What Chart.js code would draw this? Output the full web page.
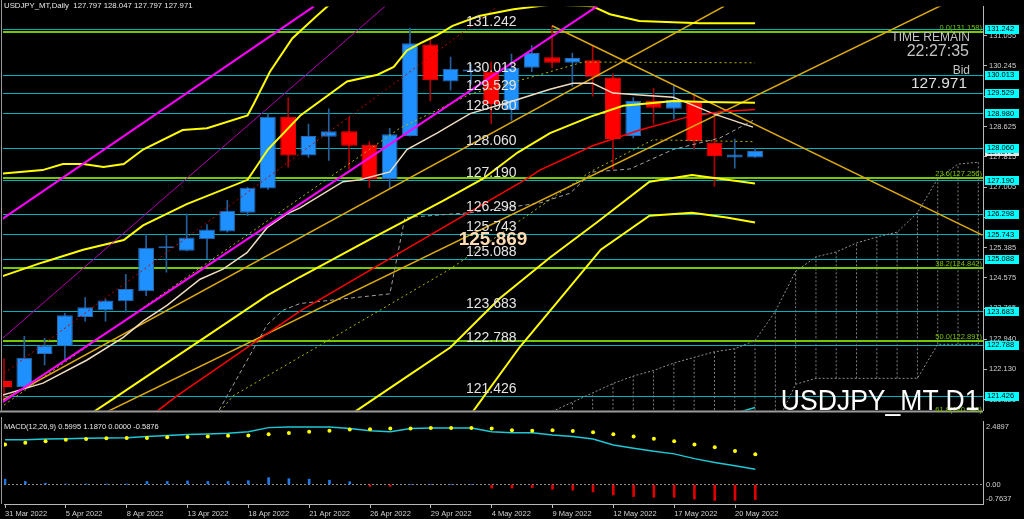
<!DOCTYPE html>
<html>
<head>
<meta charset="utf-8">
<script src="https://cdn.jsdelivr.net/npm/chart.js@4.4.0/dist/chart.umd.min.js"></script>
<style>
  body { margin: 0; background: #000; width: 1024px; height: 519px; overflow: hidden; position: relative; font-family: "Liberation Sans", Arial, sans-serif; }
  canvas { position: absolute; left: 0; }
  #main { top: 0; }
  #macd { top: 417px; }
  .t { position: absolute; white-space: pre; line-height: 1; color: #d8d8d8; }
</style>
</head>
<body>
<canvas id="main" width="1024" height="417"></canvas>
<canvas id="macd" width="1024" height="102"></canvas>

<div class="t" style="left:4px;top:2.4px;font-size:7.8px;color:#e8e8e8">USDJPY_MT,Daily  127.797 128.047 127.797 127.971</div>
<div class="t" style="right:54px;top:30.8px;font-size:12px;color:#c4c4c4">TIME REMAIN</div>
<div class="t" style="right:55px;top:42.5px;font-size:16px;color:#c4c4c4">22:27:35</div>
<div class="t" style="right:54px;top:63.8px;font-size:12px;color:#c4c4c4">Bid</div>
<div class="t" style="right:57px;top:74.9px;font-size:15.5px;color:#e0e0e0">127.971</div>
<div class="t" style="right:44px;top:384.6px;font-size:30px;color:#fff;transform:scaleX(0.885);transform-origin:right">USDJPY_MT D1</div>
<div class="t" style="left:4px;top:422.7px;font-size:7.5px;color:#e8e8e8">MACD(12,26,9) 0.5995 1.1870 0.0000 -0.5876</div>

<script>
// daily bars, 31 Mar .. 23 May 2022
const barDates = ['31 Mar 2022','1 Apr 2022','4 Apr 2022','5 Apr 2022','6 Apr 2022','7 Apr 2022','8 Apr 2022',
  '11 Apr 2022','12 Apr 2022','13 Apr 2022','14 Apr 2022','15 Apr 2022','18 Apr 2022','19 Apr 2022','20 Apr 2022',
  '21 Apr 2022','22 Apr 2022','25 Apr 2022','26 Apr 2022','27 Apr 2022','28 Apr 2022','29 Apr 2022','2 May 2022',
  '3 May 2022','4 May 2022','5 May 2022','6 May 2022','9 May 2022','10 May 2022','11 May 2022','12 May 2022',
  '13 May 2022','16 May 2022','17 May 2022','18 May 2022','19 May 2022','20 May 2022','23 May 2022'];
const openPrices  = [121.82,121.66,122.54,122.75,123.53,123.71,123.95,124.22,125.37,125.30,125.61,125.82,126.32,126.97,128.89,127.85,128.35,128.50,128.14,127.22,128.37,130.82,129.83,130.10,130.09,129.07,130.20,130.48,130.33,130.40,129.94,128.37,129.31,129.10,129.31,128.19,127.80,127.797];
const highPrices  = [122.41,123.01,122.96,123.63,124.05,124.00,124.67,125.74,125.74,126.29,126.00,126.65,127.00,128.97,129.39,128.69,129.10,128.87,128.22,128.58,131.26,130.98,130.48,130.30,130.35,130.56,130.79,131.32,130.59,130.79,130.04,129.40,129.65,129.73,129.49,128.87,128.29,128.047];
const lowPrices   = [121.28,121.66,122.25,122.38,123.42,123.42,123.66,124.10,124.73,125.30,125.09,125.80,126.24,126.94,127.54,127.80,127.72,127.49,126.99,126.97,128.37,129.31,129.60,129.75,128.70,128.79,130.09,130.20,129.70,129.44,127.49,128.32,128.69,128.82,128.01,127.02,127.51,127.797];
const closePrices = [121.66,122.44,122.77,123.58,123.79,123.97,124.28,125.38,125.39,125.66,125.87,126.37,126.99,128.89,127.85,128.37,128.50,128.11,127.22,128.42,130.85,129.86,130.17,130.13,129.23,130.20,130.59,130.33,130.46,129.96,128.29,129.31,129.13,129.34,128.24,127.83,127.88,127.971];

const dateTickBars = [0,3,6,9,12,15,18,21,24,27,30,33,36];
const priceTicks = [121.320,122.130,122.940,123.765,124.575,125.385,126.195,127.005,127.815,128.625,129.435,130.245,131.055];
const priceTickLabels = ['121.320','122.130','122.940','123.765','124.575','125.385','126.195','127.005','127.815','128.625','129.435','130.245','131.055'];

// horizontal levels and fibo
const levelPrices = [131.242,130.013,129.529,128.980,128.060,127.190,126.298,125.743,125.088,123.683,122.788,121.426];
const fibLevels = [131.158,127.256,124.842,122.891,120.940];
const fibNames = ['0.0','23.6','38.2','50.0','61.8'];
const bidPrice = 127.971;
const markPrice = 125.869;
const markBar = 22.4;
const levelTextBar = 22.76;

// indicator lines as [bar, price]
const bandOuterUp = [[-0.2,127.36],[1.9,127.46],[2.9,127.62],[3.9,127.62],[4.9,127.54],[5.9,127.62],[6.85,128.01],[8.8,128.53],[10,128.58],[12,128.92],[12.3,129.23],[13.1,130.09],[14.2,130.98],[15.4,131.58],[16.2,131.97],[20,133.0],[28,133.4],[37,132.46]];
const bandUp = [[-0.2,124.60],[1.9,124.99],[3.9,125.33],[5.9,125.59],[6.85,125.98],[9,126.55],[12,127.20],[13,128.01],[14.6,128.92],[16.9,129.83],[18.4,130.01],[19.2,130.22],[19.85,130.66],[20.5,130.85],[21.3,131.06],[22.1,131.32],[23.4,131.58],[25.1,131.76],[27,131.89],[29,131.84],[29.85,131.63],[31.3,131.45],[34.3,131.39],[37,131.39]];
const bandMid = [[0,119.4],[5.6,121.42],[9.66,122.90],[12.96,124.10],[14.58,124.60],[18,125.60],[21.6,126.63],[23.6,127.23],[25.3,127.93],[26.9,128.45],[28.9,128.89],[30.5,129.18],[33,129.31],[34.6,129.28],[37,129.26]];
const bandDn = [[15,119.6],[17.3,121.0],[19.5,121.81],[22,122.72],[24.4,124.02],[26.9,125.12],[29.2,126.06],[31.8,127.15],[33.9,127.33],[37,127.10]];
const bandOuterDn = [[21,119.8],[23.1,121.0],[25.4,122.72],[27.4,124.02],[29.4,125.33],[31.8,126.24],[33.9,126.32],[35.6,126.19],[37,126.06]];
const redMa = [[6,120.4],[7.59,121.03],[8.52,121.42],[14.58,123.69],[25.76,127.23],[26.4,127.46],[29.0,128.11],[31.33,128.53],[33.6,128.87],[35.3,129.02],[37,129.08]];
const redDotted = [[-0.2,121.94],[24.33,131.84]];
const wheatMa = [[-0.2,121.42],[1.92,121.76],[4.09,122.38],[5.86,122.98],[6.85,123.42],[8.03,123.84],[9.66,124.54],[10.79,124.81],[11.97,125.25],[12.96,125.92],[13.94,126.29],[14.58,126.45],[16.7,127.15],[17.54,127.20],[19.01,127.41],[19.85,128.01],[21.33,128.45],[22.96,128.97],[25.07,129.31],[26.9,129.62],[28.03,129.78],[29.0,129.78],[30.0,129.52],[31.33,129.47],[32.96,129.41],[33.79,129.23],[34.93,128.97],[36.9,128.61]];
const grayDashed = [[10.3,120.5],[10.59,121.03],[10.99,121.42],[12.96,123.32],[13.74,123.71],[14.58,123.89],[19.01,124.15],[19.75,126.19],[22.96,126.32],[26.4,126.58],[27.88,126.84],[29.0,127.41],[30.84,127.49],[32.96,128.01],[35.27,128.32],[36.9,128.79]];
const oliveDotted1 = [[-0.2,121.1],[4.73,122.98],[11.63,125.59],[14.58,126.71],[19.5,128.58],[22.96,129.49],[26.4,130.01],[28.52,130.35],[37,130.33]];
const oliveDotted2 = [[10.5,120.9],[11.28,121.42],[14.58,122.46],[21.97,124.81],[28.87,127.41],[31.97,128.27],[37,128.22]];
const goldLineA = [[-0.2,121.27],[35.47,131.84]];
const goldLineB = [[-0.2,119.60],[48.2,132.40]];
const goldLineDown = [[27,131.32],[48.2,125.72]];
const magentaLow = [[-0.2,121.21],[29.21,131.84]];
const magentaHigh = [[-0.2,126.11],[15.27,131.84]];
const magentaThin = [[-0.2,122.90],[18.77,131.84]];
const cyanTail = [[36,120.95],[37,121.11]];

// forward cloud, bars 27..48
const cloudBars = [27,28,29,30,31,32,33,34,35,36,37,38,39,40,41,42,43,44,45,46,47,48];
const cloudTop = [121.0,121.25,121.5,121.75,121.95,122.1,122.3,122.45,122.6,122.68,122.9,123.68,124.75,125.14,125.27,125.51,125.67,125.80,126.32,127.23,127.62,127.67];
const cloudBottom = [120.0,120.0,120.1,120.1,120.2,120.2,120.3,120.3,120.4,120.4,120.5,120.6,121.73,121.89,121.89,121.89,121.89,121.89,121.89,122.80,122.80,122.80];

// MACD(12,26,9)
const macdMain = [1.758,1.758,1.784,1.796,1.810,1.822,1.833,1.885,1.922,1.959,1.981,2.007,2.071,2.230,2.257,2.257,2.257,2.193,2.108,2.071,2.193,2.219,2.219,2.219,2.071,2.033,2.033,1.944,1.885,1.784,1.550,1.424,1.301,1.201,1.015,0.866,0.732,0.5995];
const macdSignal = [1.572,1.636,1.699,1.758,1.784,1.810,1.822,1.822,1.848,1.859,1.885,1.907,1.922,1.970,2.019,2.071,2.108,2.156,2.167,2.193,2.193,2.219,2.219,2.219,2.193,2.130,2.108,2.130,2.093,2.045,1.970,1.885,1.796,1.699,1.572,1.461,1.312,1.187];
const macdHist = [0.21,0.12,0.05,0.02,0.01,0.01,0.01,0.12,0.12,0.14,0.12,0.12,0.15,0.27,0.23,0.21,0.17,0.11,-0.07,-0.07,0,0,0,0,-0.14,-0.14,-0.12,-0.19,-0.22,-0.29,-0.41,-0.47,-0.50,-0.50,-0.57,-0.62,-0.62,-0.5876];
const macdAxisTicks = [2.4897, 0, -0.7637];
const macdAxisLabels = ['2.4897', '0.00', '-0.7637'];

const X_MIN = -0.05, X_MAX = 48.23;
const FONT = 'Liberation Sans';

function lineSet(points, color, width, dash) {
    return {
        type: 'line',
        data: points.map(p => ({x: p[0], y: p[1]})),
        borderColor: color,
        borderWidth: width,
        borderDash: dash || [],
        pointRadius: 0,
        fill: false,
        order: 0
    };
}

const isUp = i => closePrices[i] >= openPrices[i];

// hatch lines of the cloud, split by nulls
const hatch = [];
cloudBars.forEach((b, i) => {
    if (b < 28) return;
    hatch.push({x: b, y: cloudBottom[i]}, {x: b, y: cloudTop[i]}, {x: b, y: null});
});

const mainDeco = {
    id: 'mainDeco',
    beforeDatasetsDraw(chart) {
        const {ctx, chartArea: a, scales: {y}} = chart;
        ctx.save();
        ctx.beginPath();
        ctx.rect(a.left, a.top, a.right - a.left, a.bottom - a.top);
        ctx.clip();
        ctx.lineWidth = 1;
        ctx.strokeStyle = '#00b2ba';
        levelPrices.forEach(p => {
            const py = Math.round(y.getPixelForValue(p)) + 0.5;
            ctx.beginPath(); ctx.moveTo(a.left, py); ctx.lineTo(a.right, py); ctx.stroke();
        });
        ctx.lineWidth = 2;
        ctx.strokeStyle = '#74c800';
        fibLevels.forEach(p => {
            const py = Math.round(y.getPixelForValue(p));
            ctx.beginPath(); ctx.moveTo(a.left, py); ctx.lineTo(a.right, py); ctx.stroke();
        });
        ctx.restore();
    },
    afterDraw(chart) {
        const {ctx, chartArea: a, scales: {x, y}} = chart;
        ctx.save();
        // separator and left frame
        ctx.fillStyle = '#9a9a9a';
        ctx.fillRect(0, a.bottom, a.right, 2);
        ctx.fillRect(1, 0, 1, a.bottom);

        // level texts inside chart
        ctx.fillStyle = '#e4e4e4';
        ctx.font = '14px "' + FONT + '"';
        ctx.textBaseline = 'alphabetic';
        ctx.textAlign = 'left';
        const tx = x.getPixelForValue(levelTextBar);
        levelPrices.forEach(p => {
            ctx.fillText(p.toFixed(3), tx, y.getPixelForValue(p) - 3);
        });
        ctx.font = 'bold 19px "' + FONT + '"';
        ctx.fillStyle = '#ffdcb4';
        ctx.textBaseline = 'top';
        ctx.fillText(markPrice.toFixed(3), x.getPixelForValue(markBar), y.getPixelForValue(markPrice) + 1);

        // fibo labels
        ctx.font = '7.5px "' + FONT + '"';
        ctx.fillStyle = '#7cc400';
        ctx.textAlign = 'right';
        ctx.textBaseline = 'alphabetic';
        fibLevels.forEach((p, i) => {
            ctx.fillText(fibNames[i] + '(' + p.toFixed(3) + ')', a.right - 1, y.getPixelForValue(p) - 2);
        });

        // price boxes on the axis
        ctx.textAlign = 'left';
        ctx.textBaseline = 'middle';
        const bx = a.right + 2;
        let py = y.getPixelForValue(bidPrice);
        ctx.fillStyle = '#e6e6e6';
        ctx.fillRect(bx, Math.round(py - 4), 34, 9);
        ctx.fillStyle = '#000';
        ctx.fillText(bidPrice.toFixed(3), bx + 2, py + 0.5);
        levelPrices.forEach(p => {
            py = y.getPixelForValue(p);
            ctx.fillStyle = '#00ffff';
            ctx.fillRect(bx, Math.round(py - 4), 34, 9);
            ctx.fillStyle = '#000';
            ctx.fillText(p.toFixed(3), bx + 2, py + 0.5);
        });
        ctx.restore();
    }
};

new Chart(document.getElementById('main'), {
    type: 'bar',
    data: {
        datasets: [
            lineSet(magentaLow, '#ff00ff', 2),
            lineSet(magentaHigh, '#ff00ff', 2),
            lineSet(magentaThin, '#b400b4', 1),
            lineSet(bandOuterUp, '#ffff00', 2),
            lineSet(bandUp, '#ffff00', 2),
            lineSet(bandMid, '#ffff00', 2),
            lineSet(bandDn, '#ffff00', 2),
            lineSet(bandOuterDn, '#ffff00', 2),
            lineSet(redMa, '#ff0000', 1.5),
            lineSet(wheatMa, '#f0dcc0', 1.5),
            lineSet(goldLineA, '#dcaa10', 1.5),
            lineSet(goldLineB, '#dcaa10', 1.5),
            lineSet(goldLineDown, '#dcaa10', 1.5),
            lineSet(redDotted, '#c00000', 1, [2, 3]),
            lineSet(grayDashed, '#a0a0a0', 1, [4, 3]),
            lineSet(oliveDotted1, '#b4b400', 1, [2, 3]),
            lineSet(oliveDotted2, '#b4b400', 1, [2, 3]),
            lineSet(cloudBars.map((b, i) => [b, cloudTop[i]]), '#909090', 1, [2, 2]),
            lineSet(cloudBars.map((b, i) => [b, cloudBottom[i]]), '#909090', 1, [2, 2]),
            Object.assign(lineSet([], '#808080', 1, [2, 2]), {data: hatch, spanGaps: false}),
            lineSet(cyanTail, '#1ec8d4', 1.5),
            {
                type: 'bar',
                data: openPrices.map((o, i) => ({x: i, y: [o, closePrices[i]]})),
                backgroundColor: c => isUp(c.dataIndex) ? '#1e90ff' : '#ff0000',
                borderColor: c => isUp(c.dataIndex) ? '#2a68b0' : '#ff0000',
                borderWidth: 1,
                borderSkipped: false,
                minBarLength: 2,
                barPercentage: 0.78,
                categoryPercentage: 1,
                grouped: false,
                order: 1
            },
            {
                type: 'bar',
                data: lowPrices.map((l, i) => ({x: i, y: [l, highPrices[i]]})),
                backgroundColor: c => isUp(c.dataIndex) ? '#25609c' : '#b00000',
                barThickness: 1,
                grouped: false,
                order: 2
            }
        ]
    },
    options: {
        responsive: false,
        animation: false,
        events: [],
        layout: {padding: {left: 3, right: 0, top: 0, bottom: 2}},
        plugins: {legend: {display: false}, tooltip: {enabled: false}},
        scales: {
            x: {type: 'linear', display: false, min: X_MIN, max: X_MAX, offset: false},
            y: {
                type: 'linear',
                position: 'right',
                min: 121.029,
                max: 131.836,
                afterFit: s => { s.width = 41; },
                afterBuildTicks: s => { s.ticks = priceTicks.map(v => ({value: v})); },
                ticks: {
                    autoSkip: false,
                    padding: 2,
                    color: '#d0d0d0',
                    font: {family: FONT, size: 7.5},
                    callback: (v, i) => priceTickLabels[i]
                },
                grid: {drawOnChartArea: false, tickLength: 4, color: '#b8b8b8'},
                border: {display: true, color: '#b8b8b8'}
            }
        }
    },
    plugins: [mainDeco]
});

const macdDeco = {
    id: 'macdDeco',
    afterDraw(chart) {
        const {ctx, chartArea: a, scales: {y}} = chart;
        ctx.save();
        ctx.fillStyle = '#9a9a9a';
        ctx.fillRect(1, 0, 1, a.bottom);
        ctx.font = '7.5px "' + FONT + '"';
        ctx.fillStyle = '#d0d0d0';
        ctx.textAlign = 'left';
        ctx.textBaseline = 'middle';
        macdAxisTicks.forEach((v, i) => {
            let py = y.getPixelForValue(v);
            py = Math.min(Math.max(py, a.top + 6), a.bottom - 5);
            ctx.fillText(macdAxisLabels[i], a.right + 3, py);
        });
        ctx.restore();
    }
};

new Chart(document.getElementById('macd'), {
    type: 'bar',
    data: {
        datasets: [
            {type: 'line', data: macdSignal.map((v, i) => ({x: i, y: v})), showLine: false,
             pointRadius: 2, pointBackgroundColor: '#ffff00', pointBorderWidth: 0, order: 0},
            {type: 'line', data: macdMain.map((v, i) => ({x: i, y: v})), borderColor: '#1ec8d4',
             borderWidth: 1.5, pointRadius: 0, order: 0},
            {type: 'line', data: [{x: X_MIN, y: 0}, {x: X_MAX, y: 0}], borderColor: '#8a8a8a',
             borderWidth: 1, borderDash: [2, 2], pointRadius: 0, order: 2},
            {type: 'bar', data: macdHist.map((v, i) => ({x: i, y: v})),
             backgroundColor: c => macdHist[c.dataIndex] >= 0 ? '#1e78e6' : '#e00000',
             barThickness: 2, grouped: false, order: 1}
        ]
    },
    options: {
        responsive: false,
        animation: false,
        events: [],
        layout: {padding: {left: 3, right: 0, top: 0, bottom: 0}},
        plugins: {legend: {display: false}, tooltip: {enabled: false}},
        scales: {
            x: {
                type: 'linear',
                min: X_MIN,
                max: X_MAX,
                offset: false,
                afterBuildTicks: s => { s.ticks = dateTickBars.map(v => ({value: v})); },
                afterFit: s => { s.height = 15; },
                ticks: {
                    autoSkip: false,
                    align: 'start',
                    maxRotation: 0,
                    minRotation: 0,
                    padding: 1,
                    color: '#d0d0d0',
                    font: {family: FONT, size: 7.5},
                    callback: (v, i) => barDates[dateTickBars[i]]
                },
                grid: {drawOnChartArea: false, tickLength: 4, color: '#b8b8b8', offset: false},
                border: {display: true, color: '#b8b8b8'}
            },
            y: {
                type: 'linear',
                position: 'right',
                min: -0.7637,
                max: 2.4897,
                afterFit: s => { s.width = 41; },
                ticks: {display: false},
                grid: {drawOnChartArea: false, drawTicks: false},
                border: {display: true, color: '#b8b8b8'}
            }
        }
    },
    plugins: [macdDeco]
});
</script>
</body>
</html>
